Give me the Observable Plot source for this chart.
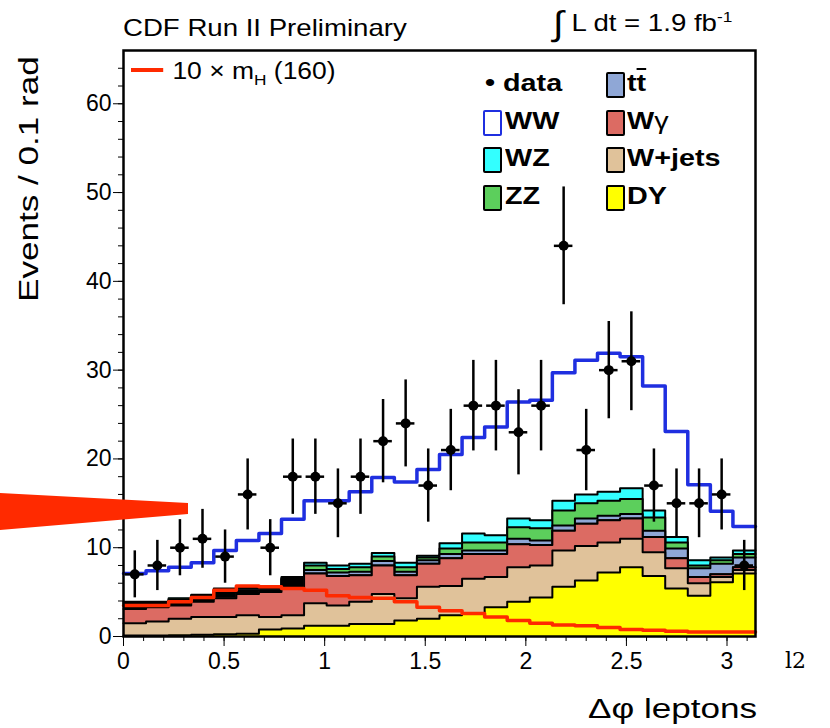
<!DOCTYPE html>
<html><head><meta charset="utf-8">
<script src="https://cdn.jsdelivr.net/npm/d3@7"></script>
<script src="https://cdn.jsdelivr.net/npm/@observablehq/plot@0.6"></script>
<style>
body{margin:0;background:#fff;font-family:"Liberation Sans",Arial,sans-serif;}
#wrap{position:relative;width:830px;height:728px;overflow:hidden;}
.t{position:absolute;white-space:nowrap;color:#000;transform-origin:left top;}
.lg{position:absolute;font-weight:bold;font-size:23px;white-space:nowrap;transform:scaleX(1.25);transform-origin:left top;}
.box{position:absolute;width:15px;height:22px;border:2px solid #000;border-radius:2px;}
</style></head><body><div id="wrap"></div>
<script>
const nBins = 28;
// cumulative stack tops per bin (Events / bin)
const dyTop    = [0.1,0.1,0.15,0.2,0.25,0.3,0.8,0.9,1.2,1.2,1.4,1.4,1.8,2.0,2.4,2.6,3.3,3.9,4.4,5.6,6.3,7.2,7.8,6.8,5.4,4.6,6.1,7.1];
const wjetsTop = [1.5,1.7,2.0,2.2,2.2,2.4,2.2,2.4,3.75,3.5,3.9,4.8,4.3,5.6,5.7,6.5,6.7,7.8,8.0,9.7,10.2,10.6,11.0,9.5,7.7,6.0,6.7,7.5];
const wgTop    = [3.1,3.3,3.5,3.9,4.3,4.8,5.0,5.6,7.1,6.8,6.9,8.0,6.9,8.2,8.8,9.3,9.3,10.4,10.3,11.9,12.7,13.1,13.3,11.2,8.8,6.7,7.0,7.8];
const otherTop = [3.5,3.5,3.9,4.3,5.0,5.2,5.2,6.4,7.1,6.8,6.9,8.0,6.9,8.2,8.8,9.3,9.3,10.4,10.3,11.9,12.7,13.1,13.3,11.2,8.8,6.7,7.0,7.8];
const ttTop    = [3.7,3.7,4.1,4.5,5.2,5.4,5.4,6.5,7.5,7.2,7.3,8.5,7.3,8.6,9.3,9.7,9.7,11.0,10.8,12.5,13.3,13.6,13.8,11.9,9.9,7.7,8.2,8.9];
const zzTop    = [3.8,3.8,4.2,4.6,5.3,5.5,5.5,6.6,8.0,7.6,7.8,9.0,7.8,8.9,9.9,10.6,10.6,12.3,12.2,14.2,15.0,15.3,15.5,13.4,10.6,8.0,8.6,9.3];
const wzTop    = [3.9,3.9,4.3,4.7,5.4,5.6,5.6,6.7,8.3,8.0,8.2,9.4,8.3,9.1,10.5,11.6,11.4,13.3,13.1,15.3,16.0,16.3,16.7,14.2,11.2,8.6,8.9,9.7];
const wwTotal  = [7.1,7.4,7.8,8.3,9.7,10.8,11.6,13.2,15.3,15.3,16.3,17.9,17.4,18.8,20.5,22.4,23.6,26.4,26.6,29.7,31.1,31.9,31.5,28.2,23.1,17.1,14.1,12.4];
const higgs10  = [3.5,3.5,3.9,4.4,5.2,5.7,5.6,5.4,5.2,4.6,4.4,4.3,3.9,3.3,2.9,2.6,2.2,1.8,1.5,1.3,1.2,1.0,0.8,0.7,0.6,0.5,0.5,0.5];
const dataCounts = [7,8,10,11,9,16,10,18,18,15,18,22,24,17,21,26,26,23,26,44,21,30,31,17,15,15,16,8];
const xTicks = [0,0.5,1,1.5,2,2.5,3];
const yTicks = [0,10,20,30,40,50,60];

const w = Math.PI / nBins;
function steps(vals){const p=[];vals.forEach((v,i)=>{p.push({x:i*w,y:v});p.push({x:(i+1)*w,y:v});});return p;}
const layers = [
  {v:wzTop, c:"#33ffff"},{v:zzTop, c:"#5ccf5c"},{v:ttTop, c:"#8fa7d6"},
  {v:otherTop, c:"#000000"},{v:wgTop, c:"#dc6b63"},{v:wjetsTop, c:"#e0c29a"},{v:dyTop, c:"#ffff00"}
];
const marks = [];
for (const L of layers){
  const s = steps(L.v);
  marks.push(Plot.areaY(s,{x:"x",y1:0,y2:"y",fill:L.c}));
  marks.push(Plot.line(s,{x:"x",y:"y",stroke:"#000",strokeWidth:2}));
}
marks.push(Plot.line(steps(higgs10),{x:"x",y:"y",stroke:"#ff2a00",strokeWidth:3.5}));
marks.push(Plot.line(steps(wwTotal),{x:"x",y:"y",stroke:"#1f2fe0",strokeWidth:3.5}));
const pts = dataCounts.map((n,i)=>({x:(i+0.5)*w,x1:i*w+0.01,x2:(i+1)*w-0.01,y:n,lo:n-Math.sqrt(n),hi:n+Math.sqrt(n)}));
marks.push(Plot.ruleX(pts,{x:"x",y1:"lo",y2:"hi",stroke:"#000",strokeWidth:2.5}));
marks.push(Plot.ruleY(pts,{y:"y",x1:"x1",x2:"x2",stroke:"#000",strokeWidth:2.5}));
marks.push(Plot.dot(pts,{x:"x",y:"y",r:5,fill:"#000"}));
marks.push(Plot.axisX({ticks:d3.range(0,3.15,0.1),tickSize:5,text:null}));
marks.push(Plot.axisX({ticks:xTicks,tickSize:10,tickFormat:d=>String(d),fontSize:23,tickPadding:6}));
marks.push(Plot.axisY({ticks:d3.range(0,66,2),tickSize:5,text:null}));
marks.push(Plot.axisY({ticks:yTicks,tickSize:10,fontSize:23,tickPadding:2}));
marks.push(Plot.frame({stroke:"#000",strokeWidth:2.5}));

const chart = Plot.plot({
  width:830,height:728,marginLeft:123,marginRight:75,marginTop:50,marginBottom:92,
  style:{fontFamily:"Liberation Sans, Arial, sans-serif",fontSize:"23px",color:"#000"},
  x:{domain:[0,Math.PI],label:null},
  y:{domain:[0,66],label:null},
  marks
});
const wrap=document.getElementById("wrap");
wrap.appendChild(chart);
wrap.insertAdjacentHTML("beforeend",`
<div class="t" style="left:123px;top:14px;font-size:24px;transform:scaleX(1.15)">CDF Run II Preliminary</div>
<div class="t" style="left:553px;top:4px;font-size:24px;transform:scaleX(1.15)"><span style="font-size:34px;font-weight:200;vertical-align:-4px">∫</span> L dt = 1.9 fb<sup style="font-size:15px">-1</sup></div>
<div class="t" style="left:14px;top:302px;font-size:27px;transform:rotate(-90deg) scaleX(1.3);">Events / 0.1 rad</div>
<div class="t" style="left:588px;top:694px;font-size:27px;transform:scaleX(1.3)">Δφ leptons</div>
<div class="t" style="left:785px;top:648px;font-size:22px;font-family:'DejaVu Serif',serif">l2</div>
<div class="t" style="left:131px;top:58px;font-size:23px;transform:scaleX(1.15)"><span style="display:inline-block;width:28px;height:4px;background:#ff2a00;vertical-align:7px;margin-right:8px"></span>10 × m<sub style="font-size:15px">H</sub> (160)</div>
<div class="lg" style="left:485px;top:70px">• data</div>
<div class="box" style="left:483px;top:110px;border-color:#1f2fe0;background:#fff"></div><div class="lg" style="left:505px;top:108px">WW</div>
<div class="box" style="left:483px;top:147px;background:#33ffff"></div><div class="lg" style="left:505px;top:145px">WZ</div>
<div class="box" style="left:483px;top:185px;background:#5ccf5c"></div><div class="lg" style="left:505px;top:183px">ZZ</div>
<div class="box" style="left:606px;top:72px;background:#8fa7d6"></div><div class="lg" style="left:627px;top:70px">t<span style="text-decoration:overline">t</span></div>
<div class="box" style="left:606px;top:110px;background:#dc6b63"></div><div class="lg" style="left:627px;top:108px">W<span style="font-weight:normal">γ</span></div>
<div class="box" style="left:606px;top:147px;background:#e0c29a"></div><div class="lg" style="left:627px;top:145px">W+jets</div>
<div class="box" style="left:606px;top:185px;background:#ffff00"></div><div class="lg" style="left:627px;top:183px">DY</div>
<svg style="position:absolute;left:0;top:0" width="200" height="560"><polygon points="0,493 188,503 188,514 0,530" fill="#ff2a00"/></svg>
`);
</script></body></html>
